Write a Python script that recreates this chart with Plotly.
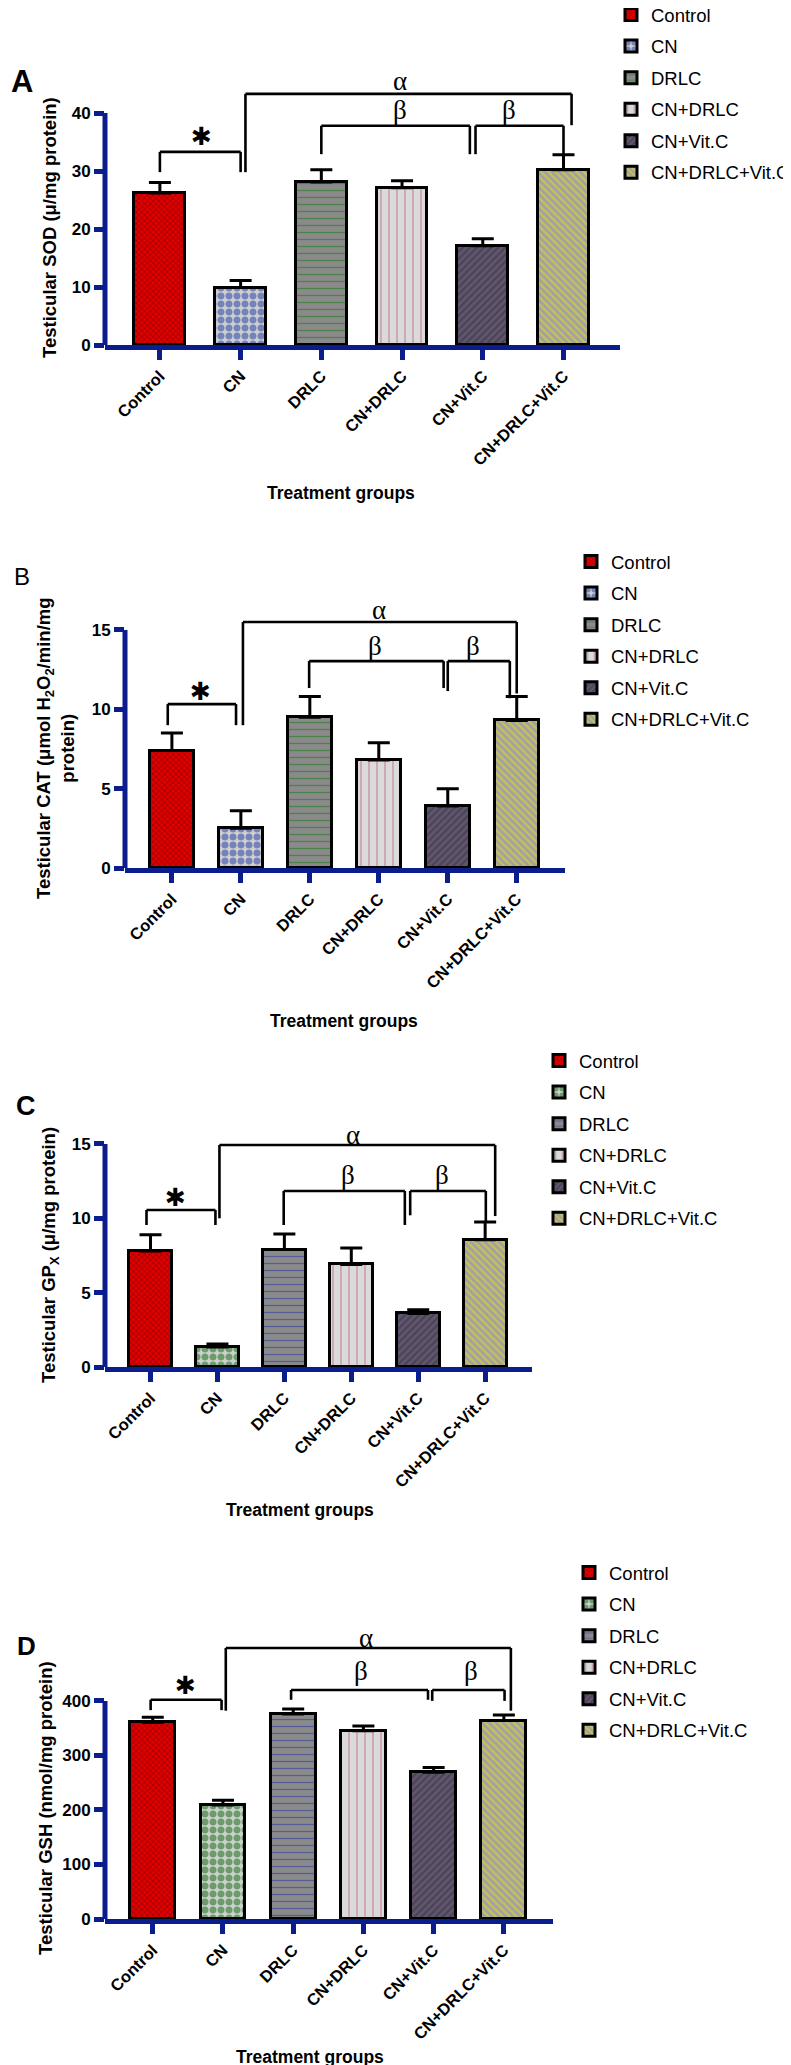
import plotly.graph_objects as go

# ---------------- data ----------------
categories = ["Control", "CN", "DRLC", "CN+DRLC", "CN+Vit.C", "CN+DRLC+Vit.C"]

sod_mean = [26.2, 9.9, 28.1, 27.1, 17.1, 30.2]
sod_sem = [1.8, 1.2, 2.1, 1.2, 1.2, 2.6]

cat_mean = [7.4, 2.5, 9.5, 6.8, 3.9, 9.3]
cat_sem = [1.1, 1.1, 1.3, 1.1, 1.1, 1.5]

gpx_mean = [7.8, 1.35, 7.9, 6.9, 3.6, 8.55]
gpx_sem = [1.1, 0.2, 1.05, 1.1, 0.25, 1.2]

gsh_mean = [361, 209, 376, 345, 269, 364]
gsh_sem = [9, 9, 9, 9, 9, 10]

sod_ticks = [0, 10, 20, 30, 40]
cat_ticks = [0, 5, 10, 15]
gpx_ticks = [0, 5, 10, 15]
gsh_ticks = [0, 100, 200, 300, 400]

# ---------------- style ----------------
W, H = 791, 2065
NAVY = "#0b1c8c"
FONT = "Arial, Liberation Sans, sans-serif"
SERIF = "Times New Roman, Liberation Serif, serif"


def fx(p):
    return p / W


def fy(p):
    return 1 - p / H


def patterns(cn_color, drlc_color):
    return [
        dict(shape="x", fgcolor="#300000", bgcolor="#e00000", size=4, solidity=0.3),
        dict(shape=".", fgcolor=cn_color, bgcolor="#cfcfcf", size=8, solidity=0.6),
        dict(shape="-", fgcolor=drlc_color, bgcolor="#8a8a8a", size=7, solidity=0.18),
        dict(shape="|", fgcolor="#b3306c", bgcolor="#dadada", size=8, solidity=0.15),
        dict(shape="/", fgcolor="#3a2060", bgcolor="#5e5864", size=5, solidity=0.4),
        dict(shape="\\", fgcolor="#f2e600", bgcolor="#a2a2a2", size=5, solidity=0.4),
    ]


panels = [
    dict(mean=sod_mean, sem=sod_sem, ticks=sod_ticks, axmax=40,
         xpx=(97, 612), ypx=(337, 60), ytop=47.76, width=0.63,
         pat=patterns("#1a3aa8", "#0a7a0a"),
         ytitle="<b>Testicular SOD (μ/mg protein)</b>", ytx=41, yty=220,
         letter="<b>A</b>", lx=14, ly=73, lsize=31,
         xt_x=333, xt_y=485, leg_x=603, leg_y=-12,
         star=(0, 1, 33.3, 29.8, 29.8), starlab=(0.52, 36.0),
         alpha=(1.06, 5.10, 43.3, 29.8, 37.9), alphalab=(2.98, 45.5),
         beta1=(2.0, 3.84, 37.8, 32.9, 32.9), beta1lab=(2.98, 40.5),
         beta2=(3.91, 5.0, 37.8, 32.9, 32.8), beta2lab=(4.33, 40.5)),
    dict(mean=cat_mean, sem=cat_sem, ticks=cat_ticks, axmax=15,
         xpx=(117, 557), ypx=(860, 585), ytop=17.33, width=0.64,
         pat=patterns("#1a3aa8", "#0a7a0a"),
         ytitle="<b>Testicular CAT (μmol H<sub>2</sub>O<sub>2</sub>/min/mg<br>protein)</b>",
         ytx=48, yty=740,
         letter="B", lx=14, ly=568, lsize=24,
         xt_x=336, xt_y=1013, leg_x=563, leg_y=535,
         star=(-0.06, 0.93, 10.33, 9.0, 9.0), starlab=(0.42, 11.15),
         alpha=(1.03, 5.0, 15.5, 9.0, 11.0), alphalab=(3.01, 16.26),
         beta1=(1.99, 3.94, 13.04, 11.34, 11.34), beta1lab=(2.94, 14.0),
         beta2=(4.0, 4.9, 13.04, 11.15, 10.7), beta2lab=(4.36, 14.0)),
    dict(mean=gpx_mean, sem=gpx_sem, ticks=gpx_ticks, axmax=15,
         xpx=(97, 524), ypx=(1359, 1105), ytop=17.08, width=0.64,
         pat=patterns("#0a6a0a", "#2232a8"),
         ytitle="<b>Testicular GP<sub>X</sub> (μ/mg protein)</b>", ytx=42, yty=1247,
         letter="<b>C</b>", lx=18, ly=1098, lsize=27,
         xt_x=292, xt_y=1502, leg_x=531, leg_y=1034,
         star=(-0.06, 0.97, 10.56, 9.55, 9.55), starlab=(0.37, 11.4),
         alpha=(1.03, 5.15, 14.93, 10.0, 10.15), alphalab=(3.02, 15.6),
         beta1=(1.99, 3.80, 11.84, 9.55, 9.55), beta1lab=(2.95, 12.9),
         beta2=(3.88, 5.01, 11.84, 10.2, 9.8), beta2lab=(4.36, 12.9)),
    dict(mean=gsh_mean, sem=gsh_sem, ticks=gsh_ticks, axmax=400,
         xpx=(97, 545), ypx=(1911, 1610), ytop=552, width=0.64,
         pat=patterns("#0a6a0a", "#2232a8"),
         ytitle="<b>Testicular GSH (nmol/mg protein)</b>", ytx=37, yty=1800,
         letter="<b>D</b>", lx=18, ly=1638, lsize=26,
         xt_x=302, xt_y=2049, leg_x=561, leg_y=1546,
         star=(-0.03, 0.98, 402, 383, 383), starlab=(0.47, 429),
         alpha=(1.04, 5.10, 497, 382, 382), alphalab=(3.03, 516),
         beta1=(1.97, 3.92, 420, 402, 402), beta1lab=(2.97, 455),
         beta2=(3.98, 5.01, 420, 400, 400), beta2lab=(4.53, 455)),
]

fig = go.Figure()
shapes = []
annotations = []
layout_updates = {}

for i, p in enumerate(panels):
    n = "" if i == 0 else str(i + 1)
    xref, yref = "x" + n, "y" + n
    legname = "legend" + n
    for j, cat in enumerate(categories):
        fig.add_trace(go.Bar(
            x=[cat], y=[p["mean"][j]], name=cat,
            xaxis=xref, yaxis=yref, legend=legname,
            legendgroup=f"{legname}_{j}",
            width=p["width"],
            marker=dict(color=p["pat"][j]["bgcolor"], pattern=p["pat"][j],
                        line=dict(color="black", width=3)),
            error_y=dict(type="data", symmetric=False, array=[p["sem"][j]],
                         arrayminus=[0], color="black", thickness=3, width=11),
        ))
    layout_updates["xaxis" + n] = dict(
        domain=[fx(p["xpx"][0]), fx(p["xpx"][1])],
        anchor=yref, type="category", categoryorder="array", categoryarray=categories,
        range=[-0.68, 5.70], showline=True, linecolor=NAVY, linewidth=5,
        ticks="outside", ticklen=10, tickwidth=5, tickcolor=NAVY,
        tickangle=-45, tickfont=dict(family=FONT, size=16.5, color="black", weight="bold"),
        showgrid=False, zeroline=False, fixedrange=True, automargin=False,
    )
    layout_updates["yaxis" + n] = dict(
        domain=[fy(p["ypx"][0]), fy(p["ypx"][1])],
        anchor=xref, range=[0, p["ytop"]], showline=False,
        tickmode="array", tickvals=p["ticks"],
        ticks="outside", ticklen=10, tickwidth=5, tickcolor=NAVY,
        tickfont=dict(family=FONT, size=17, color="black", weight="bold"),
        showgrid=False, zeroline=False, fixedrange=True, automargin=False,
    )
    layout_updates[legname] = dict(
        x=fx(p["leg_x"]), y=fy(p["leg_y"]), xanchor="left", yanchor="top",
        font=dict(family=FONT, size=18.5, color="black"),
        bgcolor="rgba(0,0,0,0)", tracegroupgap=4.5, traceorder="grouped",
    )
    # y axis line only over the scale range
    shapes.append(dict(type="line", xref=xref + " domain", yref=yref,
                       x0=0, x1=0, y0=0, y1=p["axmax"],
                       line=dict(color=NAVY, width=5)))
    # significance brackets
    for key in ("star", "alpha", "beta1", "beta2"):
        x0, x1, yl, yb0, yb1 = p[key]
        ln = dict(color="black", width=2.6)
        shapes.append(dict(type="line", xref=xref, yref=yref, x0=x0, x1=x0, y0=yb0, y1=yl, line=ln))
        shapes.append(dict(type="line", xref=xref, yref=yref, x0=x0, x1=x1, y0=yl, y1=yl, line=ln))
        shapes.append(dict(type="line", xref=xref, yref=yref, x0=x1, x1=x1, y0=yb1, y1=yl, line=ln))
    annotations.append(dict(x=p["starlab"][0], y=p["starlab"][1], xref=xref, yref=yref,
                            text="✱", showarrow=False,
                            font=dict(family="DejaVu Sans", size=25, color="black")))
    for key, sym in (("alphalab", "α"), ("beta1lab", "β"), ("beta2lab", "β")):
        annotations.append(dict(x=p[key][0], y=p[key][1], xref=xref, yref=yref,
                                text=sym, showarrow=False,
                                font=dict(family=SERIF, size=27, color="black")))
    # axis titles, panel letters
    annotations.append(dict(x=fx(p["ytx"]), y=fy(p["yty"]), xref="paper", yref="paper",
                            text=p["ytitle"], textangle=-90, showarrow=False,
                            xanchor="center", yanchor="middle", align="center",
                            font=dict(family=FONT, size=18.5, color="black")))
    annotations.append(dict(x=fx(p["xt_x"]), y=fy(p["xt_y"]), xref="paper", yref="paper",
                            text="<b>Treatment groups</b>", showarrow=False,
                            xanchor="center", yanchor="middle",
                            font=dict(family=FONT, size=17.5, color="black")))
    annotations.append(dict(x=fx(p["lx"]), y=fy(p["ly"]), xref="paper", yref="paper",
                            text=p["letter"], showarrow=False,
                            xanchor="center", yanchor="middle",
                            font=dict(family=FONT, size=p["lsize"], color="black")))

fig.update_layout(
    width=W, height=H, autosize=False,
    margin=dict(l=0, r=0, t=0, b=0, autoexpand=False),
    paper_bgcolor="white", plot_bgcolor="white",
    barmode="overlay", bargap=0,
    showlegend=True,
    shapes=shapes, annotations=annotations,
    font=dict(family=FONT, color="black"),
    **layout_updates,
)

fig.write_html("out.html")
